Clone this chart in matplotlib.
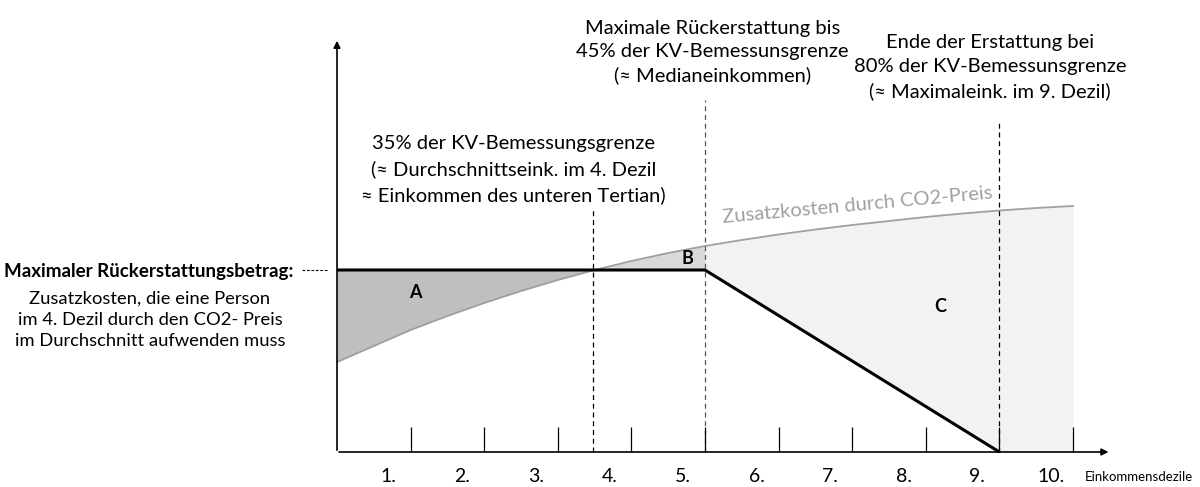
import numpy as np
from matplotlib import pyplot as plt

plt.rcParams['font.family'] = ['Lato', 'DejaVu Sans']

# curve of additional CO2 cost, read at half-decile steps (schematic units)
cost_x = [0, 0.5, 1, 1.5, 2, 2.5, 3, 3.5, 4, 4.5, 5, 5.5, 6, 6.5, 7, 7.5, 8, 8.5, 9, 9.5, 10]
co2_cost = [90, 106, 122, 136, 149, 161, 172, 182, 191, 199, 206, 212, 217.5, 222.5,
            227, 231, 235, 238.5, 241.5, 244, 246]

# refund line: flat up to 45% limit, then down to zero at 80% limit
refund_x = [0, 5, 9, 10]
refund_y = [182, 182, 0, 0]
crossing = 3.48

decile_labels = ['1.', '2.', '3.', '4.', '5.', '6.', '7.', '8.', '9.', '10.']

txt_35 = "35% der KV-Bemessungsgrenze\n(\u2248 Durchschnittseink. im 4. Dezil\n\u2248 Einkommen des unteren Tertian)"
txt_45 = "Maximale R\u00fcckerstattung bis\n45% der KV-Bemessunsgrenze\n(\u2248 Medianeinkommen)"
txt_80 = "Ende der Erstattung bei\n80% der KV-Bemessunsgrenze\n(\u2248 Maximaleink. im 9. Dezil)"
txt_left_bold = "Maximaler R\u00fcckerstattungsbetrag:"
txt_left = "Zusatzkosten, die eine Person\nim 4. Dezil durch den CO2- Preis\nim Durchschnitt aufwenden muss"
txt_curve = "Zusatzkosten durch CO2-Preis"
x_name = "Einkommensdezile"

fig = plt.figure(figsize=(12, 4.87), dpi=100)
ax = fig.add_axes([0, 0, 1, 1])
ax.set_xlim(-337/73.6, (1200-337)/73.6)
ax.set_ylim(-35, 452)
ax.axis('off')

x = np.array(cost_x, dtype=float)
c = np.array(co2_cost, dtype=float)
r = np.interp(x, refund_x, refund_y)

# areas A, B, C
ax.fill_between(x, c, r, where=(c <= r) & (x <= 5), interpolate=True, color='#bfbfbf', lw=0)
ax.fill_between(x, c, r, where=(c >= r) & (x <= 5), interpolate=True, color='#d9d9d9', lw=0)
ax.fill_between(x, c, r, where=(x >= 5), color='#f2f2f2', lw=0)

ax.plot(x, c, color='#a0a0a0', lw=1.3)
ax.plot(refund_x[:3], refund_y[:3], color='black', lw=2.2, solid_capstyle='butt')

# dashed guides
ax.vlines([crossing, 5, 9], 0, [244, 352, 332], colors=['black', '#555555', 'black'],
          linestyles=(0, (4, 3)), lw=0.9)

# axes with arrows
ax.annotate('', xy=(0, 414), xytext=(0, -1),
            arrowprops=dict(arrowstyle='-|>', color='black', lw=1.2, mutation_scale=10))
ax.annotate('', xy=(10.52, 0), xytext=(-0.01, 0),
            arrowprops=dict(arrowstyle='-|>', color='black', lw=1.2, mutation_scale=10))
ax.vlines(np.arange(1, 11), 0, 25, colors='black', lw=0.9)

for k, lab in enumerate(decile_labels):
    ax.text(k + 0.7, -25, lab, ha='center', va='center', fontsize=14)
ax.text(10.16, -25, x_name, ha='left', va='center', fontsize=9.5)

# annotations
ax.text(2.4, 282, txt_35, ha='center', va='center', fontsize=14.5, linespacing=1.55)
ax.text(5.1, 400, txt_45, ha='center', va='center', fontsize=14.5, linespacing=1.4)
ax.text(8.87, 385, txt_80, ha='center', va='center', fontsize=14.5, linespacing=1.5)

ax.text(-0.598, 180, txt_left_bold, ha='right', va='center', fontsize=13.5, fontweight='bold')
ax.plot([-0.476, -0.122], [182, 182], color='black', lw=0.8, ls=(0, (2.5, 1.5)))
ax.text(-2.54, 132, txt_left, ha='center', va='center', fontsize=13.2, linespacing=1.38)

ax.text(7.07, 247, txt_curve, ha='center', va='center', fontsize=14.5, color='#a0a0a0',
        rotation=5.2, rotation_mode='anchor')

ax.text(1.06, 160, 'A', ha='center', va='center', fontsize=13, fontweight='bold')
ax.text(4.76, 194, 'B', ha='center', va='center', fontsize=13, fontweight='bold')
ax.text(8.19, 145, 'C', ha='center', va='center', fontsize=13, fontweight='bold')

fig.savefig('out.png', dpi=100)
